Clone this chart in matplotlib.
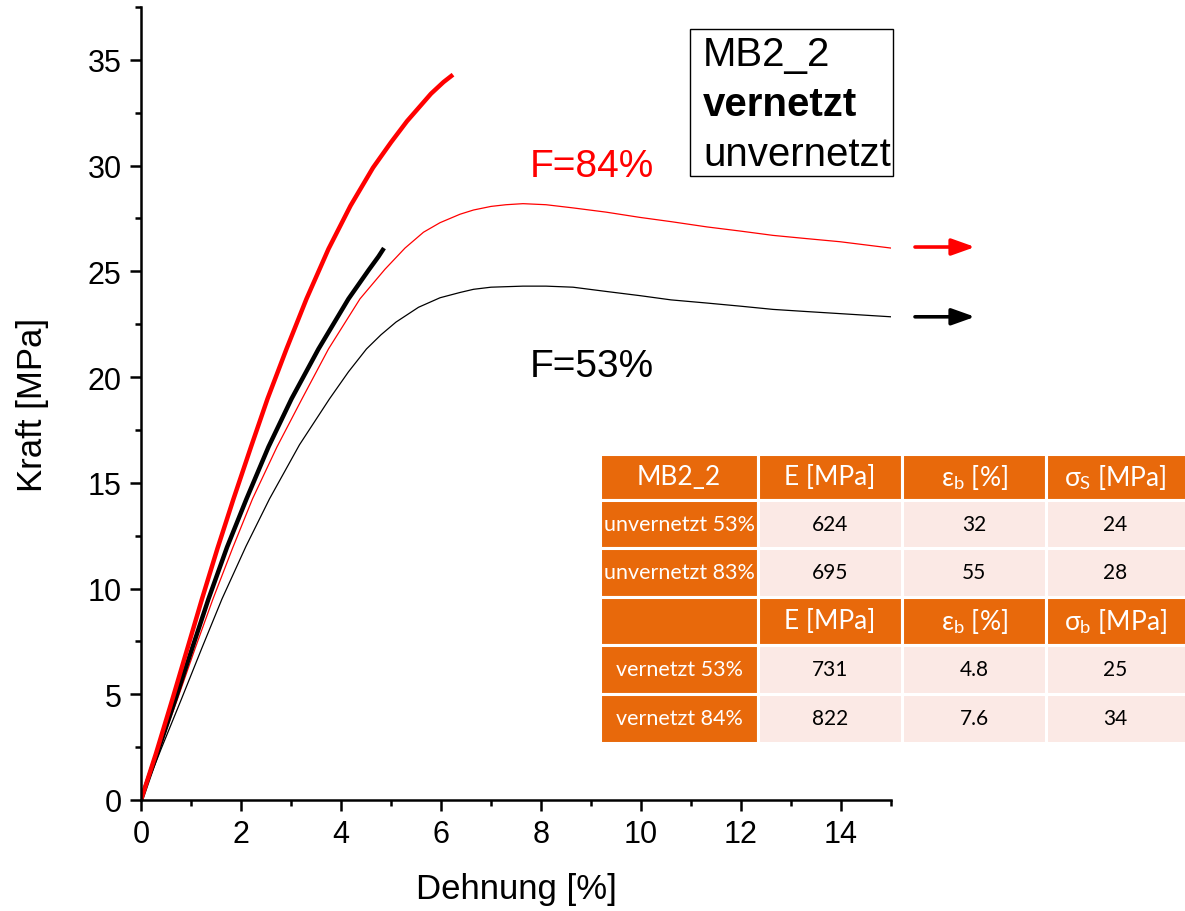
import matplotlib
matplotlib.use("Agg")
import matplotlib.pyplot as plt
from matplotlib.patches import Rectangle

plt.rcParams['font.family'] = ['Liberation Sans', 'DejaVu Sans']
plt.rcParams['mathtext.fontset'] = 'custom'
plt.rcParams['mathtext.rm'] = 'Lato'
plt.rcParams['mathtext.it'] = 'Lato:italic'

# ---------------- data ----------------
# vernetzt 84% (thick red)
x_v84 = [0, 0.3, 0.63, 0.92, 1.22, 1.53, 1.85, 2.2, 2.53, 2.91, 3.31, 3.75, 4.19, 4.64, 5.0, 5.32, 5.8, 6.05, 6.24]
y_v84 = [0, 2.2, 4.78, 7.1, 9.51, 11.9, 14.24, 16.7, 18.97, 21.33, 23.70, 26.06, 28.1, 29.9, 31.1, 32.1, 33.4, 33.95, 34.3]
# vernetzt 53% (thick black)
x_v53 = [0, 0.35, 0.69, 1.02, 1.35, 1.72, 2.11, 2.55, 3.01, 3.55, 4.15, 4.55, 4.75, 4.86]
y_v53 = [0, 2.4, 4.78, 7.15, 9.51, 11.95, 14.24, 16.7, 18.97, 21.33, 23.70, 25.05, 25.7, 26.1]
# unvernetzt 83% (thin red)
x_u83 = [0, 0.36, 0.73, 1.08, 1.44, 1.83, 2.23, 2.72, 3.22, 3.75, 4.38, 4.88, 5.28, 5.65, 5.98,
         6.38, 6.65, 7.0, 7.3, 7.64, 8.1, 8.64, 9.3, 9.98, 10.6, 11.32, 12.0, 12.64, 13.3, 13.98, 15.0]
y_u83 = [0, 2.35, 4.78, 7.15, 9.51, 11.9, 14.24, 16.7, 18.97, 21.33, 23.70, 25.1, 26.1, 26.85, 27.3,
         27.7, 27.9, 28.07, 28.15, 28.2, 28.15, 28.0, 27.8, 27.55, 27.35, 27.1, 26.9, 26.7, 26.55, 26.4, 26.1]
# unvernetzt 53% (thin black)
x_u53 = [0, 0.4, 0.81, 1.22, 1.62, 2.1, 2.57, 3.17, 3.77, 4.15, 4.51, 4.8, 5.1, 5.55, 5.98, 6.38, 6.65,
         7.0, 7.64, 8.1, 8.64, 9.3, 9.98, 10.6, 11.32, 12.0, 12.64, 13.3, 13.98, 15.0]
y_u53 = [0, 2.4, 4.78, 7.2, 9.51, 12.0, 14.24, 16.8, 18.97, 20.25, 21.33, 22.0, 22.6, 23.3, 23.75, 24.0, 24.15,
         24.25, 24.3, 24.3, 24.25, 24.05, 23.85, 23.65, 23.5, 23.35, 23.2, 23.1, 23.0, 22.85]

# arrows beyond x range (continuation markers)
arrow_start_x = 15.48
arrow_end_x = 16.68
arrow_red_y = 26.15
arrow_black_y = 22.85

x_ticks = [0, 2, 4, 6, 8, 10, 12, 14]
y_ticks = [0, 5, 10, 15, 20, 25, 30, 35]

legend_lines = ["MB2_2", "vernetzt", "unvernetzt"]

table_header1 = ["MB2_2", "E [MPa]", "ε$_\\mathrm{b}$ [%]", "σ$_\\mathrm{S}$ [MPa]"]
table_header2 = ["", "E [MPa]", "ε$_\\mathrm{b}$ [%]", "σ$_\\mathrm{b}$ [MPa]"]
row_labels_u = ["unvernetzt 53%", "unvernetzt 83%"]
row_values_u = [["624", "32", "24"], ["695", "55", "28"]]
row_labels_v = ["vernetzt 53%", "vernetzt 84%"]
row_values_v = [["731", "4.8", "25"], ["822", "7.6", "34"]]

# ---------------- figure ----------------
W, H = 1185, 912
fig = plt.figure(figsize=(W / 100, H / 100), dpi=100)
L, R, T, B = 141, 891, 8, 801
ax = fig.add_axes([L / W, (H - B) / H, (R - L) / W, (B - T) / H])

ax.plot(x_u53, y_u53, color='black', lw=0.9)
ax.plot(x_u83, y_u83, color='red', lw=0.9)
ax.plot(x_v53, y_v53, color='black', lw=3.2, solid_capstyle='butt')
ax.plot(x_v84, y_v84, color='red', lw=3.2, solid_capstyle='butt')

ax.set_xlim(0, 15)
ax.set_ylim(0, 37.5)
ax.set_xticks(x_ticks)
ax.set_yticks(y_ticks)
ax.set_xticks([1, 3, 5, 7, 9, 11, 13, 15], minor=True)
ax.set_yticks([2.5, 7.5, 12.5, 17.5, 22.5, 27.5, 32.5, 37.5], minor=True)
for s in ['top', 'right']:
    ax.spines[s].set_visible(False)
for s in ['left', 'bottom']:
    ax.spines[s].set_linewidth(1.8)
ax.tick_params(which='major', direction='out', length=8, width=1.8, labelsize=22, pad=6)
ax.tick_params(which='minor', direction='out', length=4.5, width=1.8)
ax.set_xlabel("Dehnung [%]", fontsize=25, labelpad=16)
ax.set_ylabel("Kraft [MPa]", fontsize=25, labelpad=28)

for yv, col in [(arrow_red_y, 'red'), (arrow_black_y, 'black')]:
    ax.annotate("", xy=(arrow_end_x, yv), xytext=(arrow_start_x, yv),
                xycoords='data', textcoords='data', annotation_clip=False,
                arrowprops=dict(arrowstyle='-|>,head_length=1.4,head_width=0.5',
                                color=col, lw=2.6, shrinkA=0, shrinkB=0))

ax.text(7.78, 30.0, "F=84%", color='red', fontsize=28, ha='left', va='center')
ax.text(7.78, 20.5, "F=53%", color='black', fontsize=28, ha='left', va='center')

# overlay in pixel coordinates for legend box and table
ov = fig.add_axes([0, 0, 1, 1])
ov.set_xlim(0, W)
ov.set_ylim(H, 0)
ov.axis('off')
ov.patch.set_alpha(0)

ov.add_patch(Rectangle((690, 30), 203, 147, fill=False, edgecolor='black', lw=1.0))
ov.text(703, 55, legend_lines[0], fontsize=29, ha='left', va='center')
ov.text(703, 105, legend_lines[1], fontsize=29, ha='left', va='center', fontweight='bold')
ov.text(703, 155, legend_lines[2], fontsize=29, ha='left', va='center')

orange = '#E8690B'
light = '#FBE9E5'
col_edges = [600, 758, 902, 1046, 1190]
row_edges = [455, 501, 549, 598, 646, 695, 744]
tfont = ['Lato', 'DejaVu Sans']

rows = [
    (table_header1, True),
    ([row_labels_u[0]] + row_values_u[0], False),
    ([row_labels_u[1]] + row_values_u[1], False),
    (table_header2, True),
    ([row_labels_v[0]] + row_values_v[0], False),
    ([row_labels_v[1]] + row_values_v[1], False),
]
for ri, (cells, header) in enumerate(rows):
    y0, y1 = row_edges[ri], row_edges[ri + 1]
    for ci, txt in enumerate(cells):
        x0, x1 = col_edges[ci], col_edges[ci + 1]
        fc = orange if (header or ci == 0) else light
        ov.add_patch(Rectangle((x0, y0), x1 - x0, y1 - y0, facecolor=fc,
                               edgecolor='white', lw=2.2))
        if header:
            fs, tc = 19, 'white'
        elif ci == 0:
            fs, tc = 15.5, 'white'
        else:
            fs, tc = 15, 'black'
        cx = (x0 + x1) / 2 if ci < 3 else (x0 + W) / 2
        ov.text(cx, (y0 + y1) / 2, txt, fontsize=fs, color=tc, ha='center', va='center',
                family=tfont)

fig.savefig("out.png", dpi=100)
